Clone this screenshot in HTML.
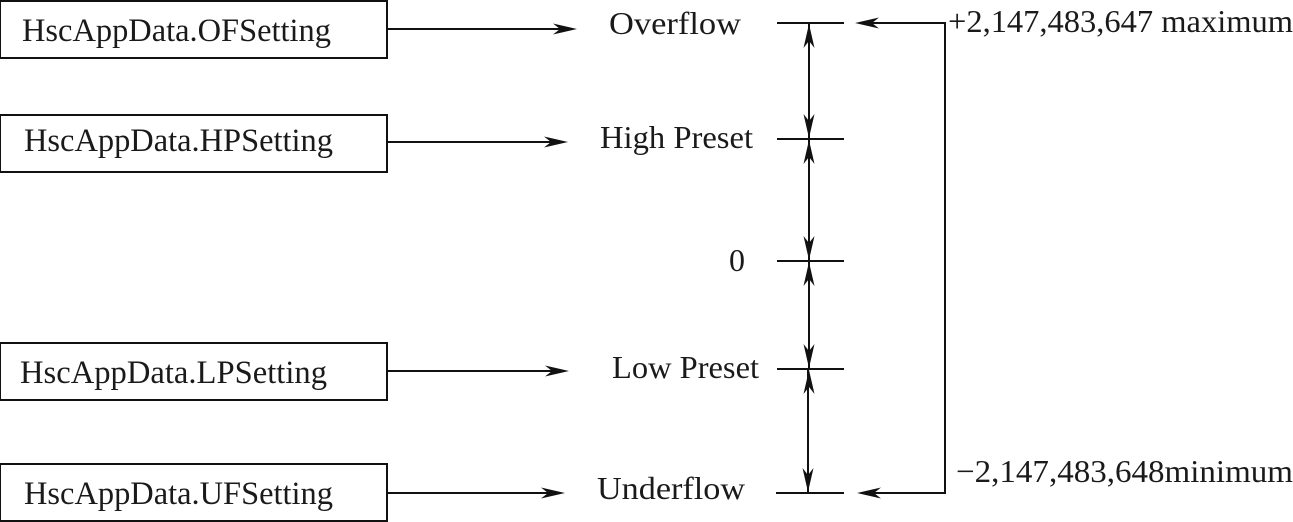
<!DOCTYPE html>
<html><head><meta charset="utf-8"><style>
html,body{margin:0;padding:0;background:#fff}
svg{display:block}
text{font-family:"Liberation Serif",serif;font-size:32px;fill:#1a1a1a}
.b{font-size:33px}
</style></head><body>
<svg width="1293" height="522" viewBox="0 0 1293 522" xmlns="http://www.w3.org/2000/svg">
<defs>
<g id="ar"><path d="M0 0L-24 -5.5L-17 0L-24 5.5Z" fill="#111"/></g>
</defs>
<g fill="none" stroke="#111" stroke-width="2">
<rect x="0" y="1" width="387" height="57"/>
<rect x="0" y="115" width="387" height="57"/>
<rect x="0" y="343" width="387" height="57"/>
<rect x="0" y="464" width="387" height="57"/>
<path d="M387 29H565M387 142H556M387 371H557M387 493H553"/>
<path d="M777 23H844M777 139H844M777 261H844M777 369H844M776 493H844"/>
<path d="M809 23V139M809 139V261M809 261V369M808 369V493"/>
<path d="M870 23H945V493H872"/>
</g>
<use href="#ar" x="577" y="29"/>
<use href="#ar" x="568" y="142"/>
<use href="#ar" x="569" y="371"/>
<use href="#ar" x="565" y="493"/>
<use href="#ar" transform="translate(855 23) rotate(180)"/>
<use href="#ar" transform="translate(857 493) rotate(180)"/>
<use href="#ar" transform="translate(809 24) rotate(-90)"/>
<use href="#ar" transform="translate(809 138) rotate(90)"/>
<use href="#ar" transform="translate(809 140) rotate(-90)"/>
<use href="#ar" transform="translate(809 260) rotate(90)"/>
<use href="#ar" transform="translate(809 262) rotate(-90)"/>
<use href="#ar" transform="translate(809 368) rotate(90)"/>
<use href="#ar" transform="translate(809 370) rotate(-90)"/>
<use href="#ar" transform="translate(808 492) rotate(90)"/>
<text class="b" x="22" y="41" textLength="309" lengthAdjust="spacingAndGlyphs">HscAppData.OFSetting</text>
<text class="b" x="24" y="151" textLength="309" lengthAdjust="spacingAndGlyphs">HscAppData.HPSetting</text>
<text class="b" x="20" y="383" textLength="307" lengthAdjust="spacingAndGlyphs">HscAppData.LPSetting</text>
<text class="b" x="24" y="504" textLength="309" lengthAdjust="spacingAndGlyphs">HscAppData.UFSetting</text>
<text x="609" y="34" textLength="132" lengthAdjust="spacingAndGlyphs">Overflow</text>
<text x="600" y="148" textLength="153" lengthAdjust="spacingAndGlyphs">High Preset</text>
<text x="729" y="271" textLength="16" lengthAdjust="spacingAndGlyphs">0</text>
<text x="612" y="378" textLength="147" lengthAdjust="spacingAndGlyphs">Low Preset</text>
<text x="597" y="499" textLength="148" lengthAdjust="spacingAndGlyphs">Underflow</text>
<text x="948" y="32" textLength="345" lengthAdjust="spacingAndGlyphs">+2,147,483,647 maximum</text>
<text x="956" y="482" textLength="337" lengthAdjust="spacingAndGlyphs">−2,147,483,648minimum</text>
</svg>
</body></html>
